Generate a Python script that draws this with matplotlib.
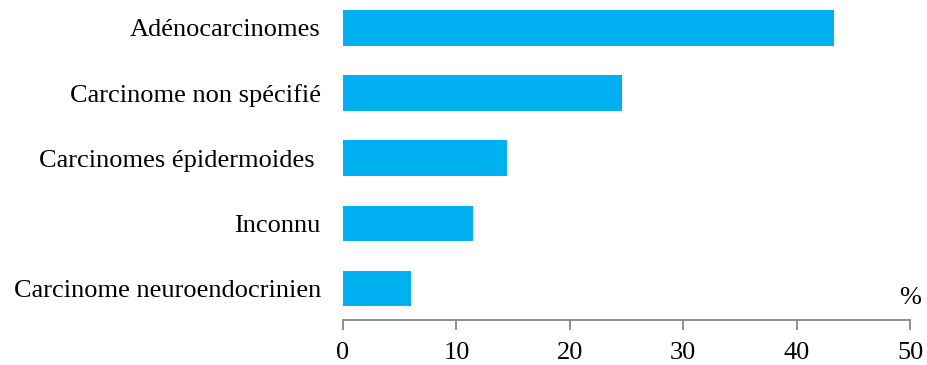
import matplotlib.pyplot as plt

# types de carcinomes (de haut en bas) et pourcentages
categories = ["Adénocarcinomes", "Carcinome non spécifié", "Carcinomes épidermoides ",
              "Inconnu", "Carcinome neuroendocrinien"]
pourcentages = [43.3, 24.6, 14.5, 11.5, 6.0]
ticks = [0, 10, 20, 30, 40, 50]

plt.rcParams['font.family'] = ['Liberation Serif', 'DejaVu Serif']

fig = plt.figure(figsize=(9.27, 3.65), dpi=100)
ax = fig.add_axes([0.37, 0.1233, 0.6117, 0.8767])

y = list(range(len(categories)))[::-1]
ax.barh(y, pourcentages, height=0.54, color="#00B0F0")

ax.set_xlim(0, 50)
ax.set_ylim(-0.49, 4.43)
ax.set_xticks(ticks)
ax.set_xticklabels([str(t) for t in ticks], fontsize=19)
ax.set_yticks(y)
ax.set_yticklabels(categories, fontsize=19)

for s in ["top", "right", "left"]:
    ax.spines[s].set_visible(False)
ax.spines["bottom"].set_color("#868686")
ax.spines["bottom"].set_linewidth(1.3)
ax.tick_params(axis="x", colors="#868686", labelcolor="black", length=7, width=1.3, pad=9)
ax.tick_params(axis="y", length=0, pad=16)

ax.text(50, -0.15, "%", fontsize=19, ha="center", va="center")

fig.savefig("out.png", dpi=100)
